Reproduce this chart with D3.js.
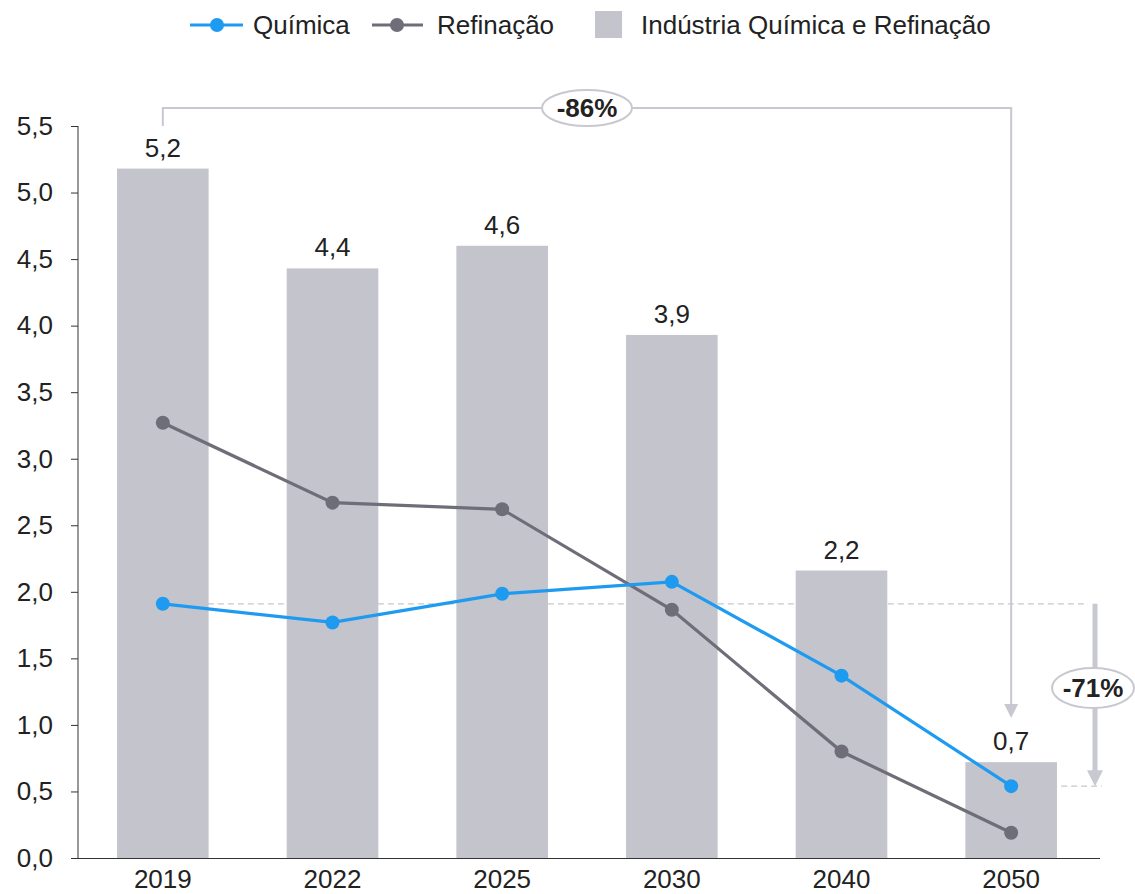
<!DOCTYPE html>
<html><head><meta charset="utf-8">
<script src="https://cdn.jsdelivr.net/npm/d3@7"></script>
<style>body{margin:0;background:#fff;font-family:"Liberation Sans",Arial,sans-serif;}</style>
</head><body>
<svg id="c" width="1135" height="894"></svg>
<script>
const years = ["2019","2022","2025","2030","2040","2050"];
const total = [5.18, 4.43, 4.60, 3.93, 2.16, 0.72];
const totalLabels = ["5,2","4,4","4,6","3,9","2,2","0,7"];
const quimica = [1.91, 1.77, 1.985, 2.075, 1.37, 0.54];
const refinacao = [3.27, 2.67, 2.62, 1.865, 0.80, 0.19];
const yTicks = [0,0.5,1,1.5,2,2.5,3,3.5,4,4.5,5,5.5];

const FS=26;
const cBlue="#1E9BF0", cGray="#6E6D78", cBar="#C4C4CC", cAnn="#C8C8D0";
const svg=d3.select("#c");
const x=d3.scaleBand().domain(years).range([78,1096]).paddingInner(0.46).paddingOuter(0.23);
const y=d3.scaleLinear().domain([0,5.5]).range([858,126]);
const cx=d=>x(d)+x.bandwidth()/2;
const fmt=v=>v.toFixed(1).replace(".",",");

// dashed guides (behind bars)
svg.append("line").attr("x1",cx("2019")+35).attr("x2",1088).attr("y1",y(quimica[0])).attr("y2",y(quimica[0]))
  .attr("stroke","#C8C8CC").attr("stroke-width",1.2).attr("stroke-dasharray","6,4");
svg.append("line").attr("x1",cx("2050")).attr("x2",1102).attr("y1",y(quimica[5])).attr("y2",y(quimica[5]))
  .attr("stroke","#C8C8CC").attr("stroke-width",1.2).attr("stroke-dasharray","6,4");

// bars
svg.selectAll("rect.bar").data(years).join("rect").attr("class","bar")
  .attr("x",d=>x(d)).attr("width",x.bandwidth())
  .attr("y",(d,i)=>y(total[i])).attr("height",(d,i)=>y(0)-y(total[i])).attr("fill",cBar);
svg.selectAll("text.bl").data(years).join("text").attr("class","bl")
  .attr("x",d=>cx(d)).attr("y",(d,i)=>y(total[i])-12).attr("text-anchor","middle")
  .attr("font-size",FS).attr("fill","#222").text((d,i)=>totalLabels[i]);

// axes
const ya=svg.append("g").attr("transform","translate(78,0)")
  .call(d3.axisLeft(y).tickValues(yTicks).tickFormat(fmt).tickSize(7).tickPadding(18));
ya.select(".domain").attr("stroke","#333").attr("d","M0,"+y(5.5)+"V"+y(0));
ya.selectAll(".tick line").attr("stroke","#333");
ya.selectAll("text").attr("font-size",FS).attr("fill","#222").attr("font-family","Liberation Sans, Arial, sans-serif");
const xa=svg.append("g").attr("transform","translate(0,858)")
  .call(d3.axisBottom(x).tickSize(0).tickPadding(12));
xa.select(".domain").attr("stroke","#333").attr("d","M71,0.5H1100");
xa.selectAll("text").attr("font-size",FS).attr("fill","#222").attr("font-family","Liberation Sans, Arial, sans-serif");

// lines
function series(data,color){
  const line=d3.line().x((d,i)=>cx(years[i])).y(d=>y(d));
  svg.append("path").datum(data).attr("d",line).attr("fill","none").attr("stroke",color).attr("stroke-width",3.2);
  svg.selectAll(null).data(data).join("circle").attr("cx",(d,i)=>cx(years[i])).attr("cy",d=>y(d)).attr("r",7).attr("fill",color);
}
series(refinacao,cGray);
series(quimica,cBlue);

// -86% bracket
const topY=108;
svg.append("path").attr("d",`M${cx("2019")},${y(5.5)}V${topY}H${cx("2050")}V704`)
  .attr("fill","none").attr("stroke",cAnn).attr("stroke-width",2);
svg.append("path").attr("d",`M${cx("2050")-7},704L${cx("2050")+7},704L${cx("2050")},718Z`).attr("fill",cAnn);
svg.append("ellipse").attr("cx",587).attr("cy",topY).attr("rx",45).attr("ry",18).attr("fill","#fff").attr("stroke",cAnn).attr("stroke-width",2);
svg.append("text").attr("x",587).attr("y",topY+9).attr("text-anchor","middle").attr("font-size",FS).attr("font-weight","bold").attr("fill","#222").text("-86%");

// -71% arrow
const ax=1095;
svg.append("line").attr("x1",ax).attr("x2",ax).attr("y1",y(quimica[0])).attr("y2",y(quimica[5])-14).attr("stroke",cAnn).attr("stroke-width",5);
svg.append("path").attr("d",`M${ax-8},${y(quimica[5])-16}L${ax+8},${y(quimica[5])-16}L${ax},${y(quimica[5])}Z`).attr("fill",cAnn);
svg.append("ellipse").attr("cx",ax-2).attr("cy",688).attr("rx",41).attr("ry",20).attr("fill","#fff").attr("stroke",cAnn).attr("stroke-width",2);
svg.append("text").attr("x",ax-2).attr("y",697).attr("text-anchor","middle").attr("font-size",FS).attr("font-weight","bold").attr("fill","#222").text("-71%");

// legend
const lg=svg.append("g");
lg.append("line").attr("x1",190).attr("x2",243).attr("y1",25).attr("y2",25).attr("stroke",cBlue).attr("stroke-width",3.2);
lg.append("circle").attr("cx",217).attr("cy",25).attr("r",7).attr("fill",cBlue);
lg.append("text").attr("x",253).attr("y",34).attr("font-size",FS).attr("fill","#222").text("Química");
lg.append("line").attr("x1",372).attr("x2",423).attr("y1",25).attr("y2",25).attr("stroke",cGray).attr("stroke-width",3.2);
lg.append("circle").attr("cx",397).attr("cy",25).attr("r",7).attr("fill",cGray);
lg.append("text").attr("x",437).attr("y",34).attr("font-size",FS).attr("fill","#222").text("Refinação");
lg.append("rect").attr("x",595).attr("y",11).attr("width",27).attr("height",27).attr("fill",cBar);
lg.append("text").attr("x",641).attr("y",34).attr("font-size",FS).attr("fill","#222").text("Indústria Química e Refinação");
</script>
</body></html>
